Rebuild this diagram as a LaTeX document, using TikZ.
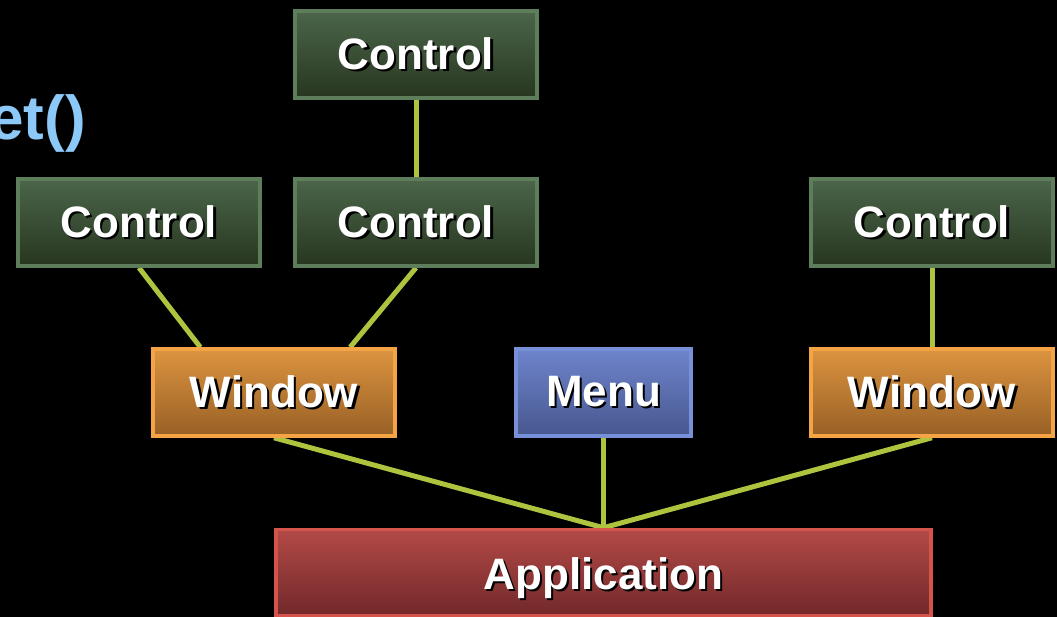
\documentclass[tikz,border=0pt]{standalone}
\usepackage{fontspec}
\setmainfont{Liberation Sans}
\usetikzlibrary{calc,backgrounds}

\definecolor{ctlTop}{HTML}{4B664A}
\definecolor{ctlBot}{HTML}{27361F}
\definecolor{ctlEdge}{HTML}{5E7D5A}
\definecolor{winTop}{HTML}{DC943F}
\definecolor{winBot}{HTML}{986026}
\definecolor{winEdge}{HTML}{F4A444}
\definecolor{menuTop}{HTML}{6E84CC}
\definecolor{menuBot}{HTML}{47578E}
\definecolor{menuEdge}{HTML}{7890D8}
\definecolor{appTop}{HTML}{B24A47}
\definecolor{appBot}{HTML}{72282A}
\definecolor{appEdge}{HTML}{D4544C}
\definecolor{wire}{HTML}{AEC43E}
\definecolor{codeBlue}{HTML}{8CC8F8}

% white bold label with a dark drop shadow
\newcommand\shlabel[1]{\rlap{\kern2.2pt\raisebox{-2.2pt}{\textcolor{black}{#1}}}#1}

\tikzset{
  box/.style={rectangle, inner sep=0pt, line width=3.5pt,
    text=white, font=\fontsize{44}{44}\selectfont\bfseries},
  ctl/.style={box, top color=ctlTop, bottom color=ctlBot, draw=ctlEdge,
    minimum width=242pt, minimum height=87pt},
  win/.style={box, top color=winTop, bottom color=winBot, draw=winEdge,
    minimum width=242pt, minimum height=87pt},
  menubox/.style={box, top color=menuTop, bottom color=menuBot, draw=menuEdge,
    minimum width=175pt, minimum height=87pt},
  appbox/.style={box, top color=appTop, bottom color=appBot, draw=appEdge,
    minimum width=655pt, minimum height=86pt},
  wireline/.style={draw=wire, line width=5pt},
}

\begin{document}
\begin{tikzpicture}[x=1pt,y=-1pt]
\useasboundingbox (0,0) rectangle (1057,617);

% nodes
\node[ctl] (ctop) at (416,54.5) {\shlabel{Control}};
\node[ctl] (cl)   at (139,222.5) {\shlabel{Control}};
\node[ctl] (cm)   at (416,222.5) {\shlabel{Control}};
\node[ctl] (cr)   at (932,222.5) {\shlabel{Control}};
\node[win] (wl)   at (274,392.5) {\shlabel{Window}};
\node[menubox] (menu) at (603.5,392.5) {\shlabel{Menu}};
\node[win] (wr)   at (932,392.5) {\shlabel{Window}};
\node[appbox] (app) at (603.5,572.5) {\raisebox{-7pt}[\height][\depth]{\shlabel{Application}}};

\node[anchor=base east, inner sep=0pt, text=codeBlue,
      font=\fontsize{62}{62}\selectfont\bfseries] (code) at (86,140) {et()};

\begin{scope}[on background layer]
  \fill[black] (0,0) rectangle (1057,617);
  \draw[wireline] (ctop.south) -- (cm.north);
  \draw[wireline] (cl.south) -- ($(wl.north west)!0.2!(wl.north east)$);
  \draw[wireline] (cm.south) -- ($(wl.north west)!0.81!(wl.north east)$);
  \draw[wireline] (cr.south) -- (wr.north);
  \draw[wireline] (wl.south) -- (app.north);
  \draw[wireline] (menu.south) -- (app.north);
  \draw[wireline] (wr.south) -- (app.north);
\end{scope}
\end{tikzpicture}
\end{document}
